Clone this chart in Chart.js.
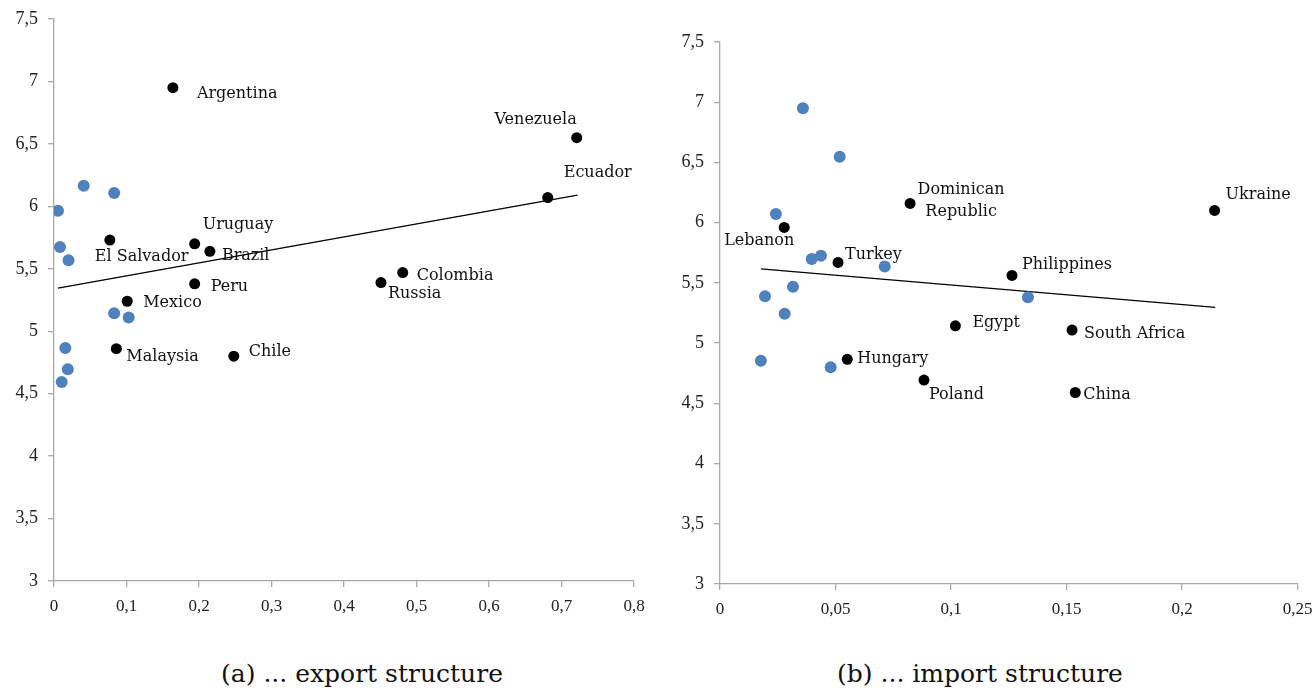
<!DOCTYPE html>
<html>
<head>
<meta charset="utf-8">
<script src="https://cdn.jsdelivr.net/npm/chart.js@4.4.0/dist/chart.umd.min.js"></script>
<style>
  body { margin: 0; width: 1313px; height: 690px; overflow: hidden; background: #fff; position: relative; }
  canvas { position: absolute; top: 0; }
  #chartA { left: 0; }
  #chartB { left: 656px; }
  .caption { position: absolute; top: 659px; font-family: "DejaVu Serif", serif; font-size: 25px; color: #111; white-space: nowrap; transform: translateX(-50%); }
</style>
</head>
<body>
<canvas id="chartA" width="650" height="630"></canvas>
<canvas id="chartB" width="660" height="630"></canvas>
<div class="caption" style="left:362px">(a) ... export structure</div>
<div class="caption" style="left:980px">(b) ... import structure</div>
<script>
// (a) export structure
let namesA = ['Argentina', 'Venezuela', 'Ecuador', 'Uruguay', 'El Salvador', 'Brazil', 'Peru', 'Mexico', 'Malaysia', 'Chile', 'Colombia', 'Russia'];
let xA = [0.164, 0.721, 0.681, 0.194, 0.077, 0.215, 0.194, 0.101, 0.086, 0.248, 0.481, 0.451];
let yA = [6.95, 6.55, 6.07, 5.70, 5.73, 5.64, 5.38, 5.24, 4.86, 4.80, 5.47, 5.39];
let blueXA = [0.0055, 0.041, 0.083, 0.0083, 0.020, 0.083, 0.103, 0.0156, 0.019, 0.0106];
let blueYA = [5.965, 6.165, 6.107, 5.675, 5.568, 5.144, 5.11, 4.866, 4.695, 4.594];
let trendXA = [0.0055, 0.722];
let trendYA = [5.345, 6.09];

// (b) import structure
let namesB = ['Dominican\nRepublic', 'Lebanon', 'Turkey', 'Egypt', 'Hungary', 'Poland', 'Ukraine', 'Philippines', 'South Africa', 'China'];
let xB = [0.0823, 0.0278, 0.0511, 0.1019, 0.0551, 0.0883, 0.2141, 0.1264, 0.1524, 0.1538];
let yB = [6.16, 5.96, 5.67, 5.144, 4.865, 4.693, 6.102, 5.562, 5.108, 4.59];
let blueXB = [0.0359, 0.0518, 0.0242, 0.0397, 0.0437, 0.0713, 0.0316, 0.0195, 0.028, 0.0177, 0.0479, 0.1333];
let blueYB = [6.95, 6.547, 6.071, 5.698, 5.725, 5.637, 5.468, 5.39, 5.243, 4.853, 4.80, 5.38];
let trendXB = [0.0177, 0.2144];
let trendYB = [5.617, 5.296];

// label placement, pixels from the dot: [dx, dy, align]
let offsetsA = {
  'Argentina': [24, 6], 'Venezuela': [0, -18, 'right'], 'Ecuador': [16, -25], 'Uruguay': [8, -19],
  'El Salvador': [-15, 17], 'Brazil': [12, 5], 'Peru': [16, 3], 'Mexico': [16, 2],
  'Malaysia': [10, 8], 'Chile': [15, -4], 'Colombia': [14, 3], 'Russia': [7, 11]
};
let offsetsB = {
  'Dominican\nRepublic': [51, -14, 'center'], 'Lebanon': [-25, 13, 'center'], 'Turkey': [7, -8],
  'Egypt': [17, -3], 'Hungary': [10, -1], 'Poland': [5, 15], 'Ukraine': [11, -16],
  'Philippines': [10, -11], 'South Africa': [12, 4], 'China': [8, 2]
};

const serif = '"DejaVu Serif", serif';
const tickFont = '"Liberation Serif", serif';
const axisGrey = '#a9a9a9';

const pointLabels = {
  id: 'pointLabels',
  afterDatasetsDraw(chart) {
    const opts = chart.options.plugins.pointLabels;
    const meta = chart.getDatasetMeta(1);
    const ctx = chart.ctx;
    ctx.save();
    ctx.font = '16px ' + serif;
    ctx.fillStyle = '#111';
    ctx.textBaseline = 'middle';
    opts.names.forEach((name, i) => {
      const el = meta.data[i];
      const o = opts.offsets[name] || [8, 0];
      ctx.textAlign = o[2] || 'left';
      name.split('\n').forEach((line, k) => {
        ctx.fillText(line, el.x + o[0], el.y + o[1] + k * 22);
      });
    });
    ctx.restore();
  }
};

function fmt(v) {
  return String(Math.round(v * 100) / 100).replace('.', ',');
}

function makeChart(id, names, xs, ys, bxs, bys, txs, tys, offsets, xMax, xStep, pad, yAxisW, xAxisH) {
  return new Chart(document.getElementById(id).getContext('2d'), {
    type: 'scatter',
    data: {
      datasets: [
        {
          type: 'line',
          data: txs.map((x, i) => ({x: x, y: tys[i]})),
          borderColor: '#000',
          borderWidth: 1.3,
          pointRadius: 0,
          fill: false,
          order: 3
        },
        {
          data: xs.map((x, i) => ({x: x, y: ys[i]})),
          backgroundColor: '#000',
          borderWidth: 0,
          pointRadius: 5.5,
          order: 1
        },
        {
          data: bxs.map((x, i) => ({x: x, y: bys[i]})),
          backgroundColor: '#4f81bd',
          borderWidth: 0,
          pointRadius: 6,
          order: 2
        }
      ]
    },
    options: {
      responsive: false,
      animation: false,
      layout: { padding: pad },
      plugins: {
        legend: { display: false },
        tooltip: { enabled: false },
        pointLabels: { names: names, offsets: offsets }
      },
      scales: {
        x: {
          type: 'linear',
          min: 0, max: xMax,
          afterFit(s) { s.height = xAxisH; s.paddingLeft = 0; s.paddingRight = 0; },
          border: { color: axisGrey, width: 1.3 },
          grid: { drawOnChartArea: false, drawTicks: true, tickLength: 6, color: axisGrey, lineWidth: 1.3 },
          ticks: { stepSize: xStep, color: '#222', padding: 9, maxRotation: 0, font: { family: tickFont, size: 17 }, callback: fmt }
        },
        y: {
          min: 3, max: 7.5,
          afterFit(s) { s.width = yAxisW; s.paddingTop = 0; s.paddingBottom = 0; },
          border: { color: axisGrey, width: 1.3 },
          grid: { drawOnChartArea: false, drawTicks: true, tickLength: 6, color: axisGrey, lineWidth: 1.3 },
          ticks: { stepSize: 0.5, color: '#222', padding: 10, font: { family: tickFont, size: 18 }, callback: fmt }
        }
      }
    },
    plugins: [pointLabels]
  });
}

let chartA = makeChart('chartA', namesA, xA, yA, blueXA, blueYA, trendXA, trendYA, offsetsA,
  0.8, 0.1, { top: 19, right: 16, left: 0, bottom: 0 }, 54, 49);
let chartB = makeChart('chartB', namesB, xB, yB, blueXB, blueYB, trendXB, trendYB, offsetsB,
  0.25, 0.05, { top: 42, right: 18.5, left: 0, bottom: 0 }, 64, 46);
</script>
</body>
</html>
